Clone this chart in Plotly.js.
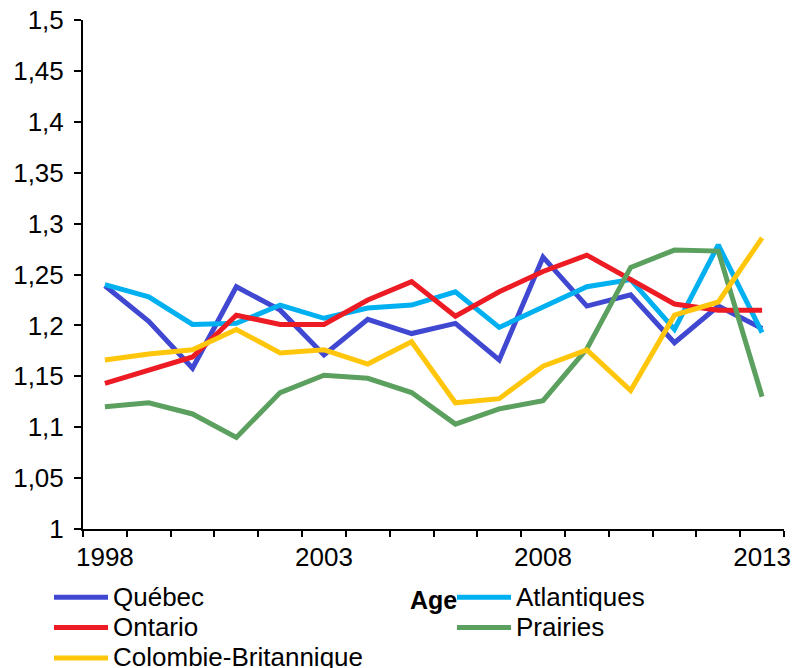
<!DOCTYPE html>
<html>
<head>
<meta charset="utf-8">
<script src="https://cdn.plot.ly/plotly-3.0.1.min.js"></script>
<style>html,body{margin:0;padding:0;background:#fff;}#chart{width:793px;height:668px;}</style>
</head>
<body>
<div id="chart"></div>
<script>
var years = [1998,1999,2000,2001,2002,2003,2004,2005,2006,2007,2008,2009,2010,2011,2012,2013];
var quebec = [1.239,1.204,1.158,1.238,1.215,1.171,1.206,1.192,1.202,1.166,1.267,1.219,1.230,1.183,1.219,1.197];
var atlantiques = [1.240,1.228,1.201,1.202,1.220,1.207,1.217,1.220,1.233,1.198,1.218,1.238,1.245,1.196,1.279,1.193];
var ontario = [1.143,1.156,1.169,1.210,1.201,1.201,1.225,1.243,1.209,1.233,1.253,1.269,1.245,1.221,1.215,1.215];
var prairies = [1.120,1.124,1.113,1.090,1.134,1.151,1.148,1.134,1.103,1.118,1.126,1.177,1.257,1.274,1.273,1.130];
var colombie = [1.166,1.172,1.176,1.196,1.173,1.176,1.162,1.184,1.124,1.128,1.160,1.176,1.136,1.210,1.223,1.286];
var seriesNames = ['Québec','Atlantiques','Ontario','Prairies','Colombie-Britannique'];
var xTickVals = [1998,2003,2008,2013];
var yTickVals = [1,1.05,1.1,1.15,1.2,1.25,1.3,1.35,1.4,1.45,1.5];
var yTickText = ['1','1,05','1,1','1,15','1,2','1,25','1,3','1,35','1,4','1,45','1,5'];
var xTitle = 'Age';

var colors = ['#4048D2','#00B0F0','#ED1C24','#5BA05F','#FFC60B'];
var legendOf = ['legend','legend2','legend','legend2','legend'];
var seriesData = [quebec, atlantiques, ontario, prairies, colombie];
var traces = seriesData.map(function(d,i){
  return {x: years, y: d, type:'scatter', mode:'lines',
          name: '<span style="font-size:26px">' + seriesNames[i] + '</span>',
          legend: legendOf[i],
          line:{color:colors[i], width:5}};
});

var FAM = '"Liberation Sans", Arial, sans-serif';
var font = {family:FAM, size:26, color:'#000'};
var legendBase = {
  orientation:'v', xref:'container', yref:'container', xanchor:'left', yanchor:'top',
  font:{family:FAM, size:21, color:'#000'},
  itemwidth:54, bgcolor:'rgba(0,0,0,0)', borderwidth:0, traceorder:'normal', tracegroupgap:0
};
var layout = {
  width:793, height:668,
  margin:{l:83, r:9, t:20, b:139, autoexpand:false},
  paper_bgcolor:'#fff', plot_bgcolor:'#fff',
  font:font,
  showlegend:true,
  xaxis:{
    range:[1997.5, 2013.5], showgrid:false, zeroline:false,
    showline:true, linecolor:'#000', linewidth:2,
    tickmode:'array', tickvals:xTickVals, ticktext:xTickVals.map(String),
    ticks:'', tickfont:font, ticklabelstandoff:4, tickangle:0,
    minor:{tick0:1997.5, dtick:1, ticks:'outside', ticklen:6, tickwidth:2, tickcolor:'#000', showgrid:false},
    title:{text:'<b>'+xTitle+'</b>', font:{family:FAM, size:25, color:'#000'}, standoff:20},
    automargin:false
  },
  yaxis:{
    range:[1,1.5], showgrid:false, zeroline:false,
    showline:true, linecolor:'#000', linewidth:2,
    tickmode:'array', tickvals:yTickVals, ticktext:yTickText,
    ticks:'outside', ticklen:7, tickwidth:2, tickcolor:'#000',
    tickfont:font, ticklabelstandoff:5, automargin:false
  },
  legend: Object.assign({}, legendBase, {x:0.0618, y:0.136}),
  legend2: Object.assign({}, legendBase, {x:0.570, y:0.136})
};
Plotly.newPlot('chart', traces, layout, {staticPlot:true, displayModeBar:false});
</script>
</body>
</html>
